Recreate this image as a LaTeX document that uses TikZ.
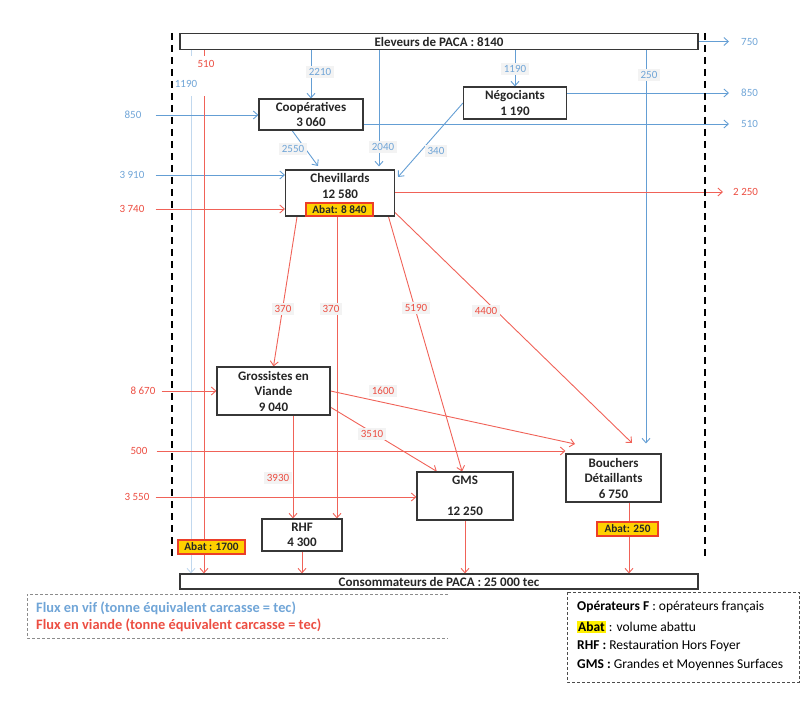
\documentclass[tikz,border=0pt]{standalone}
\usepackage{fontspec}
\setmainfont{Carlito}
\usetikzlibrary{arrows.meta,calc}
\definecolor{bl}{RGB}{100,158,212}
\definecolor{bltxt}{RGB}{112,165,215}
\definecolor{rd}{RGB}{240,98,88}
\definecolor{rdtxt}{RGB}{236,78,66}
\definecolor{abatfill}{RGB}{255,208,0}
\definecolor{abatdraw}{RGB}{236,62,40}
\definecolor{boxline}{RGB}{55,55,55}
\definecolor{lblbg}{RGB}{243,243,243}
\definecolor{hlyellow}{RGB}{255,240,0}
\pgfdeclarelayer{bg}
\pgfsetlayers{bg,main}
\begin{document}
\begin{tikzpicture}[x=1pt,y=-1pt,
  opbox/.style={draw=boxline, line width=1.1pt, fill=white, inner sep=0pt, align=center,
    font=\fontsize{13}{15.5}\selectfont\bfseries, text=black!85},
  abat/.style={draw=abatdraw, line width=1.6pt, fill=abatfill, inner sep=0pt,
    font=\fontsize{11.3}{12}\selectfont\bfseries, text=black!85},
  lbl/.style={fill=lblbg, inner sep=2.5pt, font=\fontsize{11}{12}\selectfont},
  bll/.style={draw=bl, line width=0.9pt},
  rdl/.style={draw=rd, line width=0.9pt},
  arr/.style={-{Straight Barb[length=4.5pt,width=8pt]}},
  dashv/.style={draw=black, line width=2.3pt, dash pattern=on 7pt off 5pt},
  legline/.style={draw=black!45, line width=0.9pt, dash pattern=on 3pt off 2pt},
]
\useasboundingbox (0,0) rectangle (808,703);

% ---------- boxes ----------
\node[opbox, minimum width=518, minimum height=16] (elev) at (439,41.5) {Eleveurs de PACA : 8140};
\node[opbox, minimum width=104, minimum height=31] (coop) at (311,114.5) {Coopératives\\3 060};
\node[opbox, minimum width=103, minimum height=32] (neg) at (515,103) {Négociants\\1 190};
\node[opbox, minimum width=109, minimum height=46] (chev) at (340,193) {};
\node[font=\fontsize{13}{15.5}\selectfont\bfseries, text=black!85, align=center, inner sep=0pt] (chevt) at (340,186) {Chevillards\\12 580};
\node[abat, minimum width=67, minimum height=13] (ab1) at (339.5,209.5) {Abat: 8 840};
\node[opbox, minimum width=113, minimum height=48] (gross) at (273.5,391) {Grossistes en\\Viande\\9 040};
\node[opbox, minimum width=80, minimum height=32] (rhf) at (302,535) {RHF\\4 300};
\node[opbox, minimum width=96, minimum height=48] (gms) at (465,496) {GMS\\[15.5pt]12 250};
\node[opbox, minimum width=95, minimum height=48] (bouch) at (613.5,478) {Bouchers\\Détaillants\\6 750};
\node[opbox, minimum width=518, minimum height=15] (conso) at (439,581.5) {Consommateurs de PACA : 25 000 tec};

% ---------- outer labels ----------
\node[text=bltxt, anchor=west, font=\fontsize{11}{12}\selectfont, inner sep=0pt] (t750) at (741,42) {750};
\node[text=bltxt, anchor=west, font=\fontsize{11}{12}\selectfont, inner sep=0pt] (t850o) at (741,93) {850};
\node[text=bltxt, anchor=west, font=\fontsize{11}{12}\selectfont, inner sep=0pt] (t510o) at (741,124) {510};
\node[text=rdtxt, anchor=west, font=\fontsize{11}{12}\selectfont, inner sep=0pt] (t2250) at (733,192) {2 250};
\node[text=bltxt, font=\fontsize{11}{12}\selectfont, inner sep=0pt] (t850i) at (133,115) {850};
\node[text=bltxt, font=\fontsize{11}{12}\selectfont, inner sep=0pt] (t3910) at (132,175) {3 910};
\node[text=rdtxt, font=\fontsize{11}{12}\selectfont, inner sep=0pt] (t3740) at (132,209) {3 740};
\node[text=rdtxt, font=\fontsize{11}{12}\selectfont, inner sep=0pt] (t8670) at (143,391) {8 670};
\node[text=rdtxt, font=\fontsize{11}{12}\selectfont, inner sep=0pt] (t500) at (139,451) {500};
\node[text=rdtxt, font=\fontsize{11}{12}\selectfont, inner sep=0pt] (t3550) at (137,497) {3 550};

% ---------- helper coordinates ----------
\coordinate (x1190) at (191,0);
\coordinate (x510) at (204,0);
\coordinate (x2040) at (379,0);
\coordinate (x250) at (646,0);
\coordinate (x370) at (337,0);
\coordinate (x3930) at (293,0);
\coordinate (xbou) at (629,0);
\coordinate (e2550) at (318,166);
\coordinate (e340) at (398,177);
\coordinate (e4400) at (632,443);
\coordinate (e1600) at (575,444);

\begin{pgfonlayer}{bg}
% blue flows
\draw[bll, draw=bl!40, arr] (x1190 |- elev.south) -- (x1190 |- conso.north);
\draw[bll, arr] (coop.north |- elev.south) -- (coop.north);
\draw[bll, arr, shorten >=3pt] (x2040 |- elev.south) -- (x2040 |- chev.north);
\draw[bll, arr] (neg.north |- elev.south) -- (neg.north);
\draw[bll, arr, shorten >=10pt] (x250 |- elev.south) -- (x250 |- bouch.north);
\draw[bll, arr, shorten >=12pt] (elev.east) -- (elev.east -| t750.west);
\draw[bll, arr, shorten >=12pt] (neg.east |- t850o.west) -- (t850o.west);
\draw[bll, arr, shorten >=12pt] (coop.east |- t510o.west) -- (t510o.west);
\draw[bll, arr, shorten <=14pt] (t850i.east) -- (coop.west |- t850i.east);
\draw[bll, arr, shorten <=11pt] (t3910.east) -- (chev.west |- t3910.east);
\draw[bll, arr] ($(coop.south west)!0.32!(coop.south east)$) -- (e2550);
\draw[bll, arr] (neg.west) -- (e340);
% red flows
\draw[rdl, arr] (x510 |- elev.south) -- (x510 |- conso.north);
\draw[rdl, arr, shorten <=11pt] (t3740.east) -- (chev.west |- t3740.east);
\draw[rdl, arr, shorten >=10pt] (chev.east |- t2250.west) -- (t2250.west);
\draw[rdl, arr] ($(chev.south west)!0.11!(chev.south east)$) -- (gross.north);
\draw[rdl, arr] (x370 |- chev.south) -- (x370 |- rhf.north);
\draw[rdl, arr] ($(chev.south west)!0.94!(chev.south east)$) -- ($(gms.north west)!0.47!(gms.north east)$);
\draw[rdl, arr] ($(chev.south east)+(0,-4)$) -- (e4400);
\draw[rdl, arr, shorten <=6pt] (t8670.east) -- (gross.west |- t8670.east);
\draw[rdl, arr] (gross.east) -- (e1600);
\draw[rdl, arr] ($(gross.north east)!0.83!(gross.south east)$) -- ($(gms.north west)!0.21!(gms.north east)$);
\draw[rdl, arr, shorten <=9pt] (t500.east) -- (bouch.west |- t500.east);
\draw[rdl, arr] (x3930 |- gross.south) -- (x3930 |- rhf.north);
\draw[rdl, arr, shorten <=6pt] (t3550.east) -- (gms.west |- t3550.east);
\draw[rdl, arr] (rhf.south) -- (rhf.south |- conso.north);
\draw[rdl, arr] (gms.south) -- (gms.south |- conso.north);
\draw[rdl, arr] (xbou |- bouch.south) -- (xbou |- conso.north);
\end{pgfonlayer}

% ---------- flow labels ----------
\node[lbl, fill=white, text=rdtxt, minimum width=34, text height=8, text depth=26, inner ysep=3pt, anchor=north] (l510) at (206,56) {510};
\node[lbl, fill=none, text=bltxt] (l1190a) at (186,84) {1190};
\node[lbl, text=bltxt] (l2210) at (320,72) {2210};
\node[lbl, text=bltxt] (l1190b) at (515,69) {1190};
\node[lbl, text=bltxt] (l250) at (649,75) {250};
\node[lbl, text=bltxt] (l2550) at (293,149) {2550};
\node[lbl, text=bltxt] (l2040) at (383,147) {2040};
\node[lbl, text=bltxt] (l340) at (436,151) {340};
\node[lbl, text=rdtxt] (l370a) at (283,309) {370};
\node[lbl, text=rdtxt] (l370b) at (331,309) {370};
\node[lbl, text=rdtxt] (l5190) at (416,308) {5190};
\node[lbl, text=rdtxt] (l4400) at (486,311) {4400};
\node[lbl, text=rdtxt] (l1600) at (383,391) {1600};
\node[lbl, text=rdtxt] (l3510) at (372,434) {3510};
\node[lbl, text=rdtxt] (l3930) at (278,478) {3930};

% ---------- abat boxes on top ----------
\node[abat, minimum width=67, minimum height=14] (ab2) at (211.5,547) {Abat : 1700};
\node[abat, minimum width=61, minimum height=14] (ab3) at (627.5,529) {Abat: 250};

% ---------- dashed frontier lines ----------
\coordinate (fl1) at (172,33);
\coordinate (fl2) at (172,560);
\coordinate (fr1) at (705,33);
\coordinate (fr2) at (705,560);
\draw[dashv] (fl1) -- (fl2);
\draw[dashv] (fr1) -- (fr2);

% ---------- legends ----------
\coordinate (la) at (448,594);
\coordinate (lb) at (27,594);
\coordinate (lc) at (27,638);
\coordinate (ld) at (448,638);
\draw[legline] (la) -- (lb) -- (lc) -- (ld);
\node[anchor=west, inner sep=0pt, text=bltxt, font=\fontsize{14.4}{16}\selectfont\bfseries] (leg1) at (36,608) {Flux en vif (tonne équivalent carcasse = tec)};
\node[anchor=west, inner sep=0pt, text=rdtxt, font=\fontsize{14.4}{16}\selectfont\bfseries] (leg2) at (36,625) {Flux en viande (tonne équivalent carcasse = tec)};

\coordinate (ra) at (567,592);
\coordinate (rb) at (799,682);
\draw[legline, draw=black!70] (ra) rectangle (rb);
\node[anchor=west, inner sep=0pt, font=\fontsize{13.5}{15}\selectfont] (r1) at (577,607) {\textbf{Opérateurs F} : opérateurs français};
\node[anchor=west, inner sep=0pt, font=\fontsize{13.5}{15}\selectfont] (r2) at (577,627) {{\fboxsep=1pt\colorbox{hlyellow}{\textbf{Abat}}} : volume abattu};
\node[anchor=west, inner sep=0pt, font=\fontsize{13.5}{15}\selectfont] (r3) at (577,646) {\textbf{RHF :} Restauration Hors Foyer};
\node[anchor=west, inner sep=0pt, font=\fontsize{13.5}{15}\selectfont] (r4) at (577,665) {\textbf{GMS :} Grandes et Moyennes Surfaces};
\end{tikzpicture}
\end{document}
